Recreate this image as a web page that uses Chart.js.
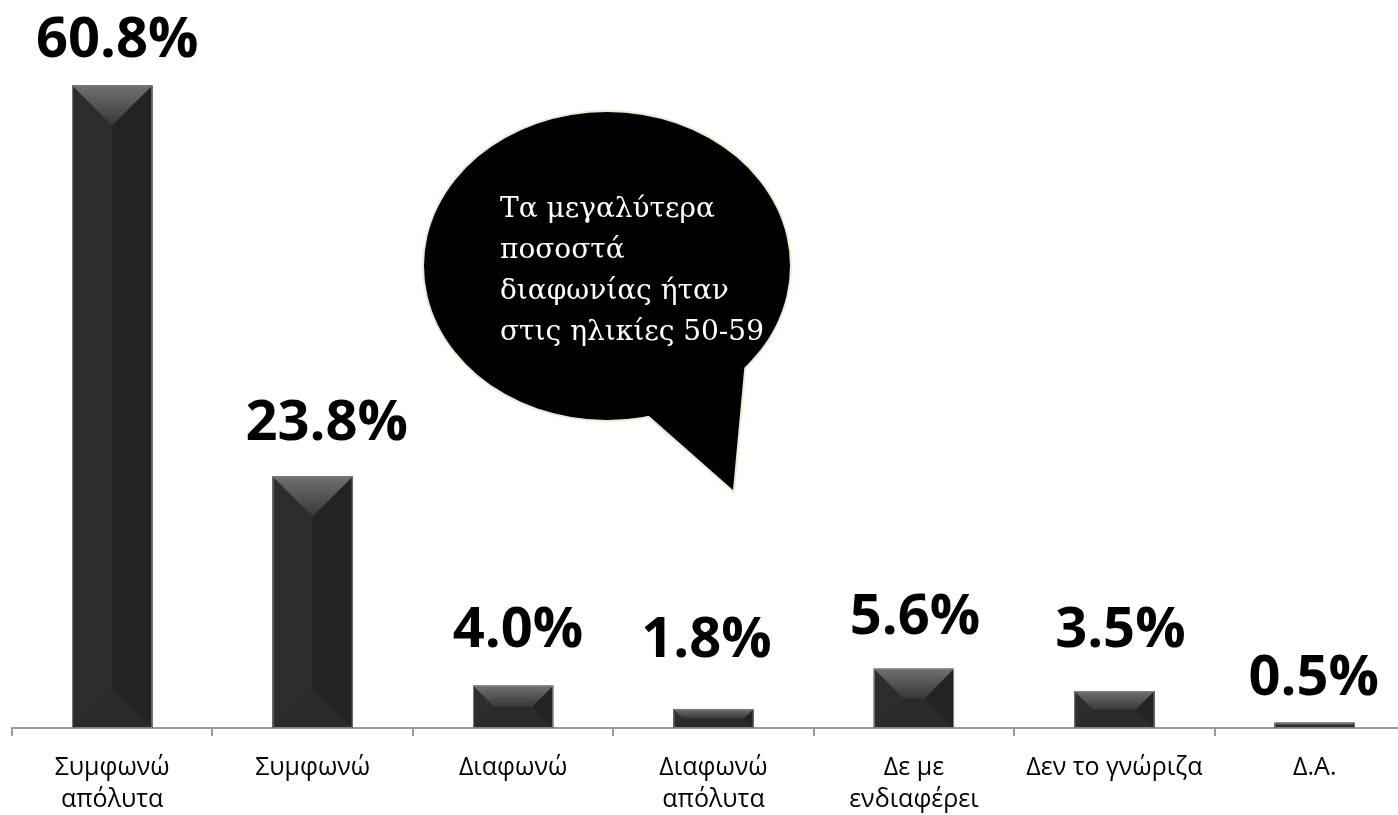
<!DOCTYPE html>
<html>
<head>
<meta charset="utf-8">
<script src="https://cdn.jsdelivr.net/npm/chart.js@4.4.0/dist/chart.umd.min.js"></script>
<style>
  html, body { margin: 0; padding: 0; background: #fff; overflow: hidden; }
  #wrap { width: 1416px; height: 815px; }
</style>
</head>
<body>
<div id="wrap"><canvas id="myChart" width="1416" height="815"></canvas></div>
<script>
// categories and values
const categories = [
  ['Συμφωνώ', 'απόλυτα'],
  'Συμφωνώ',
  'Διαφωνώ',
  ['Διαφωνώ', 'απόλυτα'],
  ['Δε με', 'ενδιαφέρει'],
  'Δεν το γνώριζα',
  'Δ.Α.'
];
const percentages = [60.8, 23.8, 4.0, 1.8, 5.6, 3.5, 0.5];
const noteLines = [
  'Τα μεγαλύτερα',
  'ποσοστά',
  'διαφωνίας ήταν',
  'στις ηλικίες 50-59'
];

// label nudges (labels were moved by hand in the original)
const labelGap = [28, 36, 39, 52, 35, 44, 28];
const labelShift = [5, 14, 5, -7, 1, 6, -1];

// bevelled bars
const bevelBars = {
  id: 'bevelBars',
  afterDatasetsDraw(chart) {
    const ctx = chart.ctx;
    chart.getDatasetMeta(0).data.forEach(function (bar) {
      const p = bar.getProps(['x', 'y', 'base', 'width'], true);
      const l = p.x - p.width / 2, r = p.x + p.width / 2;
      const t = p.y, b = p.base;
      const d = Math.min(p.width / 2, (b - t) / 2);
      ctx.save();
      function face(pts, fill) {
        ctx.beginPath();
        ctx.moveTo(pts[0][0], pts[0][1]);
        for (let i = 1; i < pts.length; i++) ctx.lineTo(pts[i][0], pts[i][1]);
        ctx.closePath();
        ctx.fillStyle = fill;
        ctx.fill();
      }
      ctx.fillStyle = '#272727';
      ctx.fillRect(l, t, r - l, b - t);
      face([[l, t], [l + d, t + d], [l + d, b - d], [l, b]], '#2d2d2d');
      face([[r, t], [r, b], [r - d, b - d], [r - d, t + d]], '#232323');
      face([[l, b], [r, b], [r - d, b - d], [l + d, b - d]], '#2a2a2a');
      const g = ctx.createLinearGradient(0, t, 0, t + d);
      g.addColorStop(0, '#707070');
      g.addColorStop(1, '#383838');
      face([[l, t], [r, t], [r - d, t + d], [l + d, t + d]], g);
      ctx.strokeStyle = '#808080';
      ctx.lineWidth = 1;
      ctx.strokeRect(l + 0.5, t + 0.5, r - l - 1, b - t - 1);
      ctx.restore();
    });
  }
};

// value labels above bars
const valueLabels = {
  id: 'valueLabels',
  afterDatasetsDraw(chart) {
    const ctx = chart.ctx;
    ctx.save();
    ctx.font = 'bold 56px "Open Sans"';
    ctx.fillStyle = '#000';
    ctx.textAlign = 'center';
    ctx.textBaseline = 'alphabetic';
    chart.getDatasetMeta(0).data.forEach(function (bar, i) {
      ctx.fillText(percentages[i].toFixed(1) + '%', bar.x + labelShift[i], bar.y - labelGap[i]);
    });
    ctx.restore();
  }
};

// speech bubble note
const bubble = {
  id: 'bubble',
  afterDraw(chart) {
    const ctx = chart.ctx;
    const cx = 607, cy = 266, rx = 183, ry = 154;
    const tail = [[733, 490], [640, 408], [745, 360]];
    function ellipsePath() {
      ctx.beginPath();
      ctx.ellipse(cx, cy, rx, ry, 0, 0, Math.PI * 2);
    }
    function tailPath() {
      ctx.beginPath();
      ctx.moveTo(tail[0][0], tail[0][1]);
      ctx.lineTo(tail[1][0], tail[1][1]);
      ctx.lineTo(tail[2][0], tail[2][1]);
      ctx.closePath();
    }
    ctx.save();
    ctx.strokeStyle = '#efe9d6';
    ctx.lineWidth = 4;
    ellipsePath(); ctx.stroke();
    tailPath(); ctx.stroke();
    ctx.fillStyle = '#000';
    ellipsePath(); ctx.fill();
    tailPath(); ctx.fill();
    ctx.font = '28px "DejaVu Serif"';
    ctx.fillStyle = '#fff';
    ctx.textAlign = 'left';
    ctx.textBaseline = 'alphabetic';
    noteLines.forEach(function (line, i) {
      ctx.fillText(line, 500, 217 + i * 41);
    });
    ctx.restore();
  }
};

const data = {
  labels: categories,
  datasets: [{
    data: percentages,
    backgroundColor: '#272727',
    borderWidth: 0,
    barPercentage: 0.4,
    categoryPercentage: 1
  }]
};

const config = {
  type: 'bar',
  data: data,
  options: {
    responsive: false,
    animation: false,
    devicePixelRatio: 1,
    layout: { padding: { top: 41, left: 12, right: 1, bottom: 0 } },
    plugins: { legend: { display: false }, tooltip: { enabled: false } },
    scales: {
      x: {
        afterFit(scale) { scale.height = 87; },
        grid: {
          display: true,
          offset: true,
          drawOnChartArea: false,
          drawTicks: true,
          tickLength: 8,
          color: '#9a9a9a',
          lineWidth: 2
        },
        border: { display: true, color: '#9a9a9a', width: 2 },
        ticks: {
          color: '#000',
          font: { family: '"Open Sans"', size: 25, lineHeight: 1.28 },
          padding: 16,
          maxRotation: 0,
          autoSkip: false
        }
      },
      y: {
        display: false,
        min: 0,
        max: 65
      }
    }
  },
  plugins: [bevelBars, valueLabels, bubble]
};

const myChart = new Chart(document.getElementById('myChart'), config);
</script>
</body>
</html>
